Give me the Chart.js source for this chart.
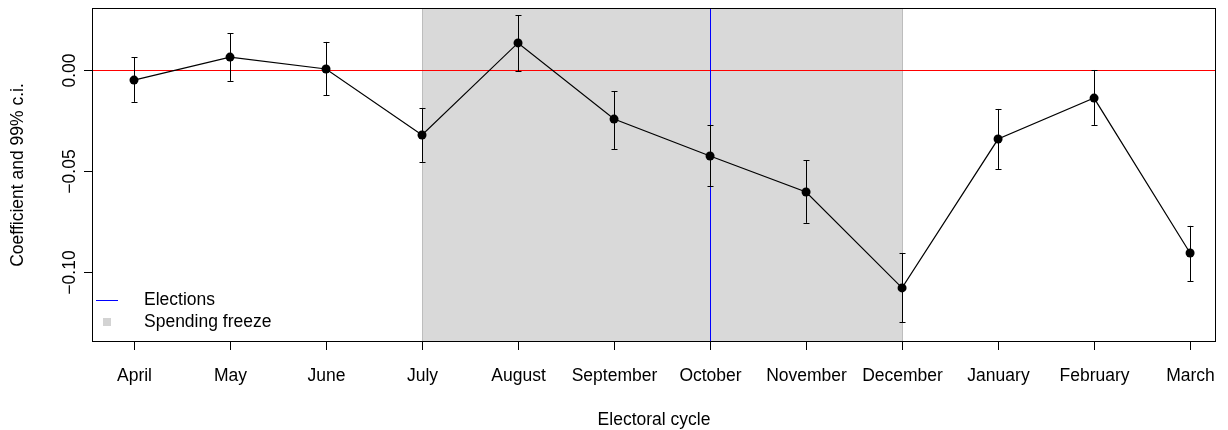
<!DOCTYPE html>
<html><head><meta charset="utf-8">
<script src="https://cdn.jsdelivr.net/npm/chart.js@4"></script>
<style>body{margin:0;background:#fff}#w{width:1228px;height:430px}</style>
</head><body><div id="w"><canvas id="c"></canvas></div>
<script>
const months=["April","May","June","July","August","September","October","November","December","January","February","March"];
const coef=[-0.005,0.0064,0.0005,-0.0322,0.0134,-0.0243,-0.0426,-0.0604,-0.1079,-0.0342,-0.0139,-0.0906];
const ciHigh=[0.0064,0.0183,0.0139,-0.0188,0.0272,-0.0104,-0.0272,-0.0446,-0.0906,-0.0193,0.0,-0.0772];
const ciLow=[-0.0158,-0.0054,-0.0124,-0.0455,-0.0005,-0.0391,-0.0574,-0.0757,-0.1248,-0.049,-0.0272,-0.1045];
const yTicks=[-0.10,-0.05,0.00];
const freezeStart=3, freezeEnd=8, electionIdx=6;
const F='"Liberation Sans", Arial, sans-serif';
const R=v=>Math.round(v)+0.5;
const plug={id:'p',
beforeDatasetsDraw(ch){const c=ch.ctx,x=ch.scales.x,y=ch.scales.y,a=ch.chartArea;c.save();
 c.fillStyle='#d9d9d9';const x0=R(x.getPixelForValue(freezeStart)),x1=R(x.getPixelForValue(freezeEnd));
 c.fillRect(x0,a.top,x1-x0,a.bottom-a.top);
 c.strokeStyle='#bdbdbd';c.lineWidth=1;c.beginPath();c.moveTo(x0,a.top);c.lineTo(x0,a.bottom);c.moveTo(x1,a.top);c.lineTo(x1,a.bottom);c.stroke();
 c.strokeStyle='#ff0000';c.beginPath();const yz=R(y.getPixelForValue(0));c.moveTo(a.left,yz);c.lineTo(a.right,yz);c.stroke();
 c.strokeStyle='#0000ff';c.beginPath();const xe=R(x.getPixelForValue(electionIdx));c.moveTo(xe,a.top);c.lineTo(xe,a.bottom);c.stroke();
 c.strokeStyle='#000';c.beginPath();
 for(let i=0;i<coef.length;i++){const px=R(x.getPixelForValue(i)),h=y.getPixelForValue(ciHigh[i]),l=y.getPixelForValue(ciLow[i]);
  c.moveTo(px,h);c.lineTo(px,l);c.moveTo(px-3,R(h));c.lineTo(px+3,R(h));c.moveTo(px-3,R(l));c.lineTo(px+3,R(l));}
 c.stroke();c.restore();},
afterDraw(ch){const c=ch.ctx,x=ch.scales.x,y=ch.scales.y,a=ch.chartArea;c.save();
 c.strokeStyle='#000';c.lineWidth=1;c.strokeRect(R(a.left),R(a.top),Math.round(a.right-a.left)-1,Math.round(a.bottom-a.top)-1);
 c.fillStyle='#000';c.font='17.5px '+F;c.textAlign='center';c.textBaseline='middle';c.beginPath();
 months.forEach((m,i)=>{const px=R(x.getPixelForValue(i));c.moveTo(px,a.bottom);c.lineTo(px,a.bottom+8);c.fillText(m,px,376);});
 yTicks.forEach(v=>{const py=R(y.getPixelForValue(v));c.moveTo(a.left,py);c.lineTo(a.left-8,py);
  c.save();c.translate(70,py);c.rotate(-Math.PI/2);c.fillText(v===0?'0.00':(v.toFixed(2).replace('-','\u2212')),0,0);c.restore();});
 c.stroke();
 c.fillText('Electoral cycle',654,420);
 c.save();c.translate(18,(a.top+a.bottom)/2);c.rotate(-Math.PI/2);c.fillText('Coefficient and 99% c.i.',0,0);c.restore();
 c.textAlign='left';c.strokeStyle='#0000ff';c.beginPath();c.moveTo(96,300.5);c.lineTo(118,300.5);c.stroke();
 c.fillText('Elections',144,300);c.fillStyle='#d3d3d3';c.fillRect(103,318,8,8);c.fillStyle='#000';c.fillText('Spending freeze',144,322);
 c.restore();}};
new Chart(document.getElementById('c'),{type:'line',
data:{datasets:[{data:coef.map((v,i)=>({x:i,y:v})),borderColor:'#000',backgroundColor:'#000',borderWidth:1.2,pointRadius:4.5,pointBackgroundColor:'#000',pointBorderWidth:0,tension:0}]},
options:{responsive:true,maintainAspectRatio:false,animation:false,
 layout:{padding:{left:92,right:12,top:8,bottom:88}},
 plugins:{legend:{display:false},tooltip:{enabled:false}},
 scales:{x:{type:'linear',min:-0.4375,max:11.27,display:false},y:{min:-0.1347,max:0.0307,display:false}}},
plugins:[plug]});
</script></body></html>
